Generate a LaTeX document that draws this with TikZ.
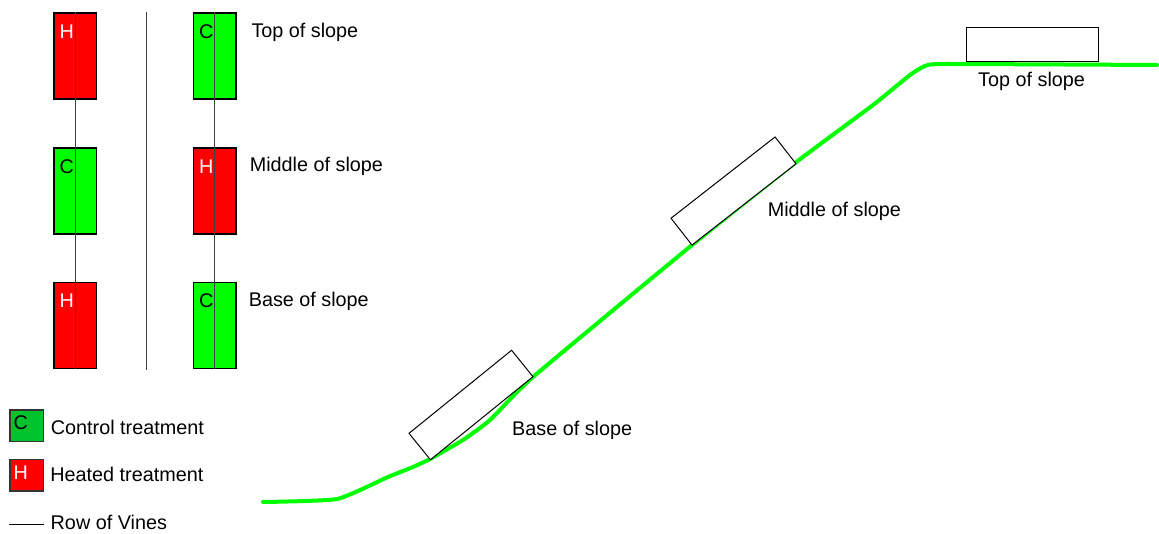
\documentclass[tikz,border=0pt]{standalone}
\usepackage{fontspec}
\setmainfont{Liberation Sans}
\definecolor{vgreen}{RGB}{0,255,0}
\definecolor{lgreen}{RGB}{0,195,45}
\definecolor{vred}{RGB}{255,0,0}
\begin{document}
\begin{tikzpicture}[x=1pt, y=-1pt, font=\fontsize{19.8}{23}\selectfont,
	treat/.style={draw, line width=1.5pt, inner xsep=5.5pt, inner ysep=11pt, text width=31.2pt, align=left, text height=14pt, text depth=50pt},
	heat/.style={treat, fill=vred, text=white},
	ctrl/.style={treat, fill=vgreen},
	legbox/.style={draw=black!80, line width=1.5pt, inner xsep=3.5pt, inner ysep=6pt, text width=26.5pt, align=left, text height=14pt, text depth=5.5pt},
	vine/.style={black!75, line width=0.8pt},
	site/.style={draw, line width=1pt, fill=white, minimum width=132pt, minimum height=34pt, inner sep=0pt},
	lab/.style={anchor=base west, inner sep=0pt}]
	\useasboundingbox (0,0) rectangle (1159,533);
	
	% plots along the two rows
	\node[heat] (hTL) at (75.2,56){H};
	\node[ctrl] (cML) at (75.2,191){C};
	\node[heat] (hBL) at (75.2,325.5){H};
	
	\node[ctrl] (cTR) at (214.8,56){C};
	\node[heat] (hMR) at (214.8,191){H};
	\node[ctrl] (cBR) at (214.8,325.5){C};
	
	\draw[vine] (hTL.north) -- (hBL.south);
	\draw[vine] (cTR.north) -- (cBR.south);
	
	\coordinate (divT) at (146,12);
	\coordinate (divB) at (146,370);
	\draw[black!75, line width=0.8pt] (divT) -- (divB);
	
	\node[lab] (top) at (251.3,37.7){Top of slope};
	\node[lab] (mid) at (249.6,171){Middle of slope};
	\node[lab] (base) at (248.6,306.7){Base of slope};
	
	% legend
	\node[legbox, fill=lgreen] (legC) at (26.8,425.5){C};
	\node[legbox, fill=vred, text=white] (legH) at (26.8,475){H};
	\node[lab] (legCt) at (50.7,434.3){Control treatment};
	\node[lab] (legHt) at (50.2,481.7){Heated treatment};
	
	\coordinate (row1) at (9,524.3);
	\coordinate (row2) at (44,524.3);
	\draw[black, line width=1pt] (row1) -- (row2);
	\node[lab] (rowt) at (50.5,529){Row of Vines};
	
	% side view of the slope
	\draw[vgreen, line width=4pt, line cap=round, line join=round] plot[smooth, tension=0.3] coordinates {(263,502) (337,499) (388,477) (413,467) (430,459) (463,440) (490,420) (533,377) (692,245) (795,163) (873,105) (910,75) (925,66) (945,64) (1157,65)};
	
	\node[site, rotate=39] (sBase) at (471,405){};
	\node[site, rotate=38] (sMid) at (733.5,191){};
	\node[site] (sTop) at (1032.5,44.5){};
	
	\node[lab] (baseS) at (512,435){Base of slope};
	\node[lab] (midS) at (767.6,216.7){Middle of slope};
	\node[lab] (topS) at (978,86){Top of slope};
\end{tikzpicture}
\end{document}
